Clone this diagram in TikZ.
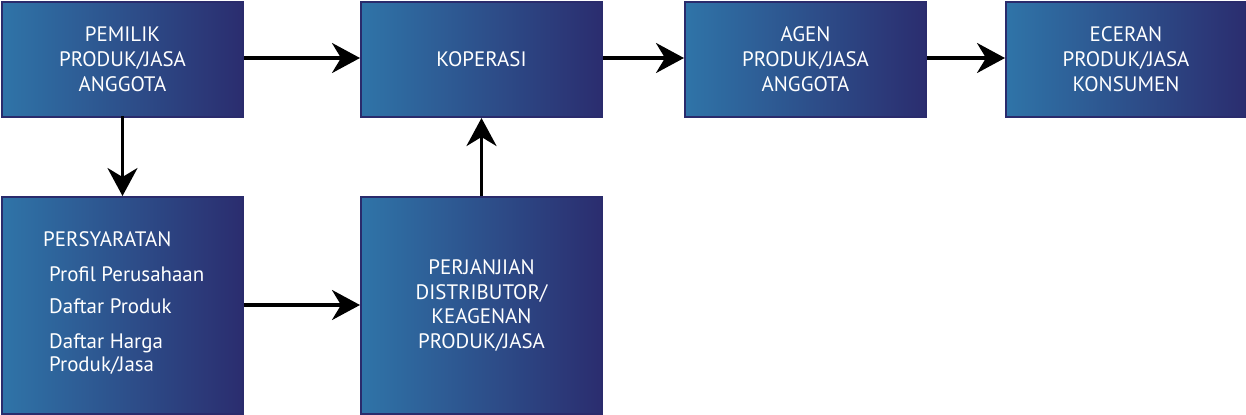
\documentclass[tikz,border=0pt]{standalone}
\usepackage{fontspec}
\setmainfont{PT Sans}
\usepackage{tikz}
\usetikzlibrary{arrows.meta,positioning,calc}
\definecolor{boxleft}{RGB}{47,116,168}
\definecolor{boxright}{RGB}{43,45,111}
\definecolor{boxline}{RGB}{42,43,108}

\begin{document}
\begin{tikzpicture}[
    x=1bp, y=-1bp,
    box/.style={draw=boxline, line width=2bp, rectangle, anchor=north west,
        left color=boxleft, right color=boxright,
        minimum width=241bp, text=white, align=center,
        font=\fontsize{21}{25}\selectfont},
    flow/.style={-{Stealth[length=28bp, width=30bp, inset=9bp]}, line width=3.5bp, black}
]
    \useasboundingbox (0,0) rectangle (1246,414);

    % Top row
    \node[box, minimum height=115bp] (pemilik) at (1,1) {PEMILIK\\PRODUK/JASA\\ANGGOTA};
    \node[box, minimum height=115bp] (koperasi) at (360,1) {KOPERASI};
    \node[box, minimum height=115bp] (agen) at (684,1) {AGEN\\PRODUK/JASA\\ANGGOTA};
    \node[box, minimum height=115bp, minimum width=240bp] (eceran) at (1005,1) {ECERAN\\PRODUK/JASA\\KONSUMEN};

    % Bottom row
    \node[box, minimum height=217bp] (persyaratan) at (1,196) {};
    \node[anchor=north west, align=left, inner sep=0pt, text=white, font=\fontsize{21}{23}\selectfont]
        (syarat) at ($(persyaratan.north west)+(42,35)$)
        {PERSYARATAN\\[12bp]
         \hspace{6bp}Profil Perusahaan\\[10bp]
         \hspace{6bp}Daftar Produk\\[12bp]
         \hspace{6bp}Daftar Harga\\
         \hspace{6bp}Produk/Jasa};
    \node[box, minimum height=217bp] (perjanjian) at (360,196)
        {PERJANJIAN\\DISTRIBUTOR/\\KEAGENAN\\PRODUK/JASA};

    % Arrows
    \draw[flow] (pemilik.east |- 0,58) -- (koperasi.west |- 0,58);
    \draw[flow] (koperasi.east |- 0,58) -- (agen.west |- 0,58);
    \draw[flow] (agen.east |- 0,58) -- (eceran.west |- 0,58);
    \draw[flow] (pemilik.south |- 0,116) -- (persyaratan.north);
    \draw[flow] (persyaratan.east |- 0,305) -- (perjanjian.west |- 0,305);
    \draw[flow] (perjanjian.north) -- (koperasi.south);
\end{tikzpicture}
\end{document}
